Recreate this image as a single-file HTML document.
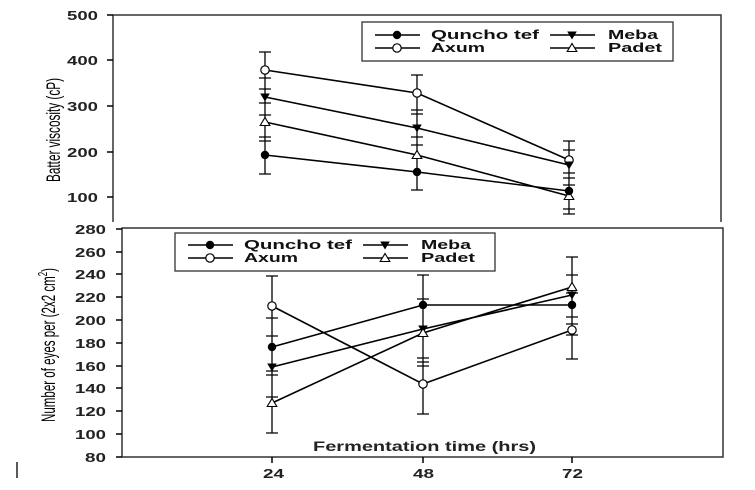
<!DOCTYPE html>
<html><head><style>body{margin:0;background:#fff}svg{display:block}</style></head><body>
<svg width="755" height="490" xmlns="http://www.w3.org/2000/svg" font-family="Liberation Sans, Arial, sans-serif">
<defs>
<g id="fc"><circle r="4.2" fill="#000"/></g>
<g id="oc"><circle r="4.2" fill="#fff" stroke="#000" stroke-width="1.2"/></g>
<g id="ft"><path d="M-4.8,-3.5 L4.8,-3.5 L0,4.5 Z" fill="#000"/></g>
<g id="ot"><path d="M-4.8,3.5 L4.8,3.5 L0,-4.5 Z" fill="#fff" stroke="#000" stroke-width="1.1"/></g>
</defs>
<g stroke="#000" stroke-width="1.5" fill="none">
<path d="M113,222 V15 H721 V222" stroke="#333"/>
<path d="M107,15H113M107,60H113M107,106H113M107,152H113M107,197H113"/>
<rect x="122" y="228" width="601" height="229" stroke="#333"/>
<path d="M116,229H122M116,252H122M116,274H122M116,297H122M116,320H122M116,343H122M116,366H122M116,388H122M116,411H122M116,434H122M116,457H122"/>
<path d="M272,457V463M423,457V463M572,457V463"/>
<path d="M17,462V478" stroke-width="1.3"/>
</g>
<g font-size="13" font-weight="bold" fill="#222">
<text x="67" y="20" textLength="31" lengthAdjust="spacingAndGlyphs">500</text><text x="67" y="65" textLength="31" lengthAdjust="spacingAndGlyphs">400</text><text x="67" y="111" textLength="31" lengthAdjust="spacingAndGlyphs">300</text><text x="67" y="157" textLength="31" lengthAdjust="spacingAndGlyphs">200</text><text x="67" y="202" textLength="31" lengthAdjust="spacingAndGlyphs">100</text>
<text x="75" y="234" textLength="31" lengthAdjust="spacingAndGlyphs">280</text><text x="75" y="257" textLength="31" lengthAdjust="spacingAndGlyphs">260</text><text x="75" y="279" textLength="31" lengthAdjust="spacingAndGlyphs">240</text><text x="75" y="302" textLength="31" lengthAdjust="spacingAndGlyphs">220</text><text x="75" y="325" textLength="31" lengthAdjust="spacingAndGlyphs">200</text><text x="75" y="348" textLength="31" lengthAdjust="spacingAndGlyphs">180</text><text x="75" y="371" textLength="31" lengthAdjust="spacingAndGlyphs">160</text><text x="75" y="393" textLength="31" lengthAdjust="spacingAndGlyphs">140</text><text x="75" y="416" textLength="31" lengthAdjust="spacingAndGlyphs">120</text><text x="75" y="439" textLength="31" lengthAdjust="spacingAndGlyphs">100</text><text x="85" y="462" textLength="21" lengthAdjust="spacingAndGlyphs">80</text>
<text x="263" y="478" textLength="21" lengthAdjust="spacingAndGlyphs">24</text><text x="413" y="478" textLength="21" lengthAdjust="spacingAndGlyphs">48</text><text x="562" y="478" textLength="21" lengthAdjust="spacingAndGlyphs">72</text>
<text x="313" y="451" font-size="14" textLength="223" lengthAdjust="spacingAndGlyphs">Fermentation time (hrs)</text>
</g>
<text transform="translate(60,182) rotate(-90)" font-size="19" textLength="104" lengthAdjust="spacingAndGlyphs">Batter viscosity (cP)</text>
<text transform="translate(55,422) rotate(-90)" font-size="19" textLength="154" lengthAdjust="spacingAndGlyphs">Number of eyes per (2x2 cm<tspan dy="-8" font-size="13">2</tspan><tspan dy="8">)</tspan></text>
<g stroke="#000" stroke-width="1.3">
<path d="M265,52V174M259,52H271M259,174H271M259,78H271M259,89H271M259,103H271M259,115H271M259,137H271M259,141H271"/>
<path d="M417,75V190M411,75H423M411,190H423M411,110H423M411,114H423M411,137H423M411,145H423"/>
<path d="M569,141V214M563,141H575M563,214H575M563,150H575M563,173H575M563,178H575M563,185H575M563,209H575"/>
</g>
<g stroke="#000" stroke-width="1.6" fill="none">
<polyline points="265,70 417,93 569,160"/>
<polyline points="265,97 417,128 569,165"/>
<polyline points="265,122 417,155 569,196"/>
<polyline points="265,155 417,172 569,191"/>
</g>
<use href="#oc" x="265" y="70"/><use href="#oc" x="417" y="93"/><use href="#oc" x="569" y="160"/>
<use href="#ft" x="265" y="97"/><use href="#ft" x="417" y="128"/><use href="#ft" x="569" y="165"/>
<use href="#ot" x="265" y="122"/><use href="#ot" x="417" y="155"/><use href="#ot" x="569" y="196"/>
<use href="#fc" x="265" y="155"/><use href="#fc" x="417" y="172"/><use href="#fc" x="569" y="191"/>
<rect x="362" y="22" width="311" height="39" fill="#fff" stroke="#333" stroke-width="1.3"/>
<g stroke="#000" stroke-width="1.6"><path d="M375,35H420M375,48H420M550,35H595M550,48H595"/></g>
<use href="#fc" x="397" y="35"/><use href="#oc" x="397" y="48"/><use href="#ft" x="572" y="35"/><use href="#ot" x="572" y="48"/>
<g font-size="13" font-weight="bold" fill="#111"><text x="431" y="39" textLength="108" lengthAdjust="spacingAndGlyphs">Quncho tef</text><text x="431" y="52" textLength="54" lengthAdjust="spacingAndGlyphs">Axum</text><text x="608" y="39" textLength="50" lengthAdjust="spacingAndGlyphs">Meba</text><text x="608" y="52" textLength="54" lengthAdjust="spacingAndGlyphs">Padet</text></g>
<g stroke="#000" stroke-width="1.3">
<path d="M272,276V433M266,276H278M266,433H278M266,318H278M266,336H278M266,371H278M266,375H278M266,397H278"/>
<path d="M423,275V414M417,275H429M417,414H429M417,299H429M417,358H429M417,362H429M417,366H429"/>
<path d="M572,257V359M566,257H578M566,359H578M566,275H578M566,293H578M566,317H578M566,324H578M566,335H578"/>
</g>
<g stroke="#000" stroke-width="1.6" fill="none">
<polyline points="272,306 423,384 572,330"/>
<polyline points="272,347 423,305 572,305"/>
<polyline points="272,367 423,329 572,295"/>
<polyline points="272,403 423,333 572,287"/>
</g>
<use href="#oc" x="272" y="306"/><use href="#oc" x="423" y="384"/><use href="#oc" x="572" y="330"/>
<use href="#fc" x="272" y="347"/><use href="#fc" x="423" y="305"/><use href="#fc" x="572" y="305"/>
<use href="#ft" x="272" y="367"/><use href="#ft" x="423" y="329"/><use href="#ft" x="572" y="295"/>
<use href="#ot" x="272" y="403"/><use href="#ot" x="423" y="333"/><use href="#ot" x="572" y="287"/>
<rect x="175" y="233" width="320" height="38" fill="#fff" stroke="#333" stroke-width="1.3"/>
<g stroke="#000" stroke-width="1.6"><path d="M188,245H233M188,258H233M363,245H408M363,258H408"/></g>
<use href="#fc" x="210" y="245"/><use href="#oc" x="210" y="258"/><use href="#ft" x="385" y="245"/><use href="#ot" x="385" y="258"/>
<g font-size="13" font-weight="bold" fill="#111"><text x="244" y="249" textLength="108" lengthAdjust="spacingAndGlyphs">Quncho tef</text><text x="244" y="262" textLength="54" lengthAdjust="spacingAndGlyphs">Axum</text><text x="421" y="249" textLength="50" lengthAdjust="spacingAndGlyphs">Meba</text><text x="421" y="262" textLength="54" lengthAdjust="spacingAndGlyphs">Padet</text></g>
</svg>
</body></html>
